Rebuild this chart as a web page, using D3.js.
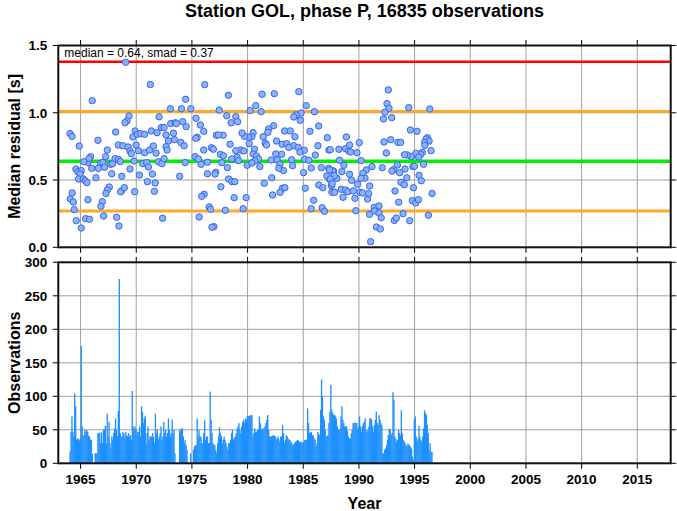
<!DOCTYPE html>
<html><head><meta charset="utf-8">
<script src="https://cdn.jsdelivr.net/npm/d3@7"></script>
<style>
body{margin:0;background:#fff}
svg{display:block}
text{font-family:"Liberation Sans",Arial,Helvetica,sans-serif;fill:#000}
</style>
</head><body>
<svg id="chart" width="677" height="511"></svg>
<script>
// ---------------- data ----------------
const titleText = "Station GOL, phase P, 16835 observations";
const medianValue = 0.64;
const smadValue = 0.37;
const statsText = "median = 0.64, smad = 0.37";
const yearDomain = [1963, 2018];
const yearTicks = [1965, 1970, 1975, 1980, 1985, 1990, 1995, 2000, 2005, 2010, 2015];
const residTicks = [0, 0.5, 1.0, 1.5];
const residTickLabels = ["0.0", "0.5", "1.0", "1.5"];
const obsTicks = [0, 50, 100, 150, 200, 250, 300];

// monthly median residuals: [decimal year, median residual (s)]
const residPoints = [
[1969.05,1.375],[1971.27,1.21],[1966.05,1.09],[1974.44,1.10],[1973.07,1.03],[1974.06,1.03],[1974.9,1.03],
[1969.35,0.976],[1969.17,0.94],[1968.99,0.926],[1972.05,0.97],
[1964.05,0.845],[1964.23,0.825],[1968.15,0.857],[1966.56,0.795],[1964.88,0.753],
[1969.9,0.865],[1969.7,0.82],[1970.1,0.84],[1970.4,0.845],[1970.75,0.84],[1971.36,0.865],
[1971.87,0.852],[1972.26,0.89],[1972.5,0.89],[1972.68,0.835],
[1973.1,0.92],[1973.5,0.926],[1973.6,0.92],[1974.17,0.934],[1974.48,0.897],
[1973.34,0.848],[1973.43,0.80],[1972.9,0.79],[1972.68,0.748],[1972.77,0.723],[1974.0,0.78],[1974.3,0.755],
[1968.39,0.76],[1968.8,0.755],[1969.26,0.746],[1969.44,0.716],[1969.56,0.696],[1969.98,0.76],[1970.2,0.718],[1970.75,0.703],[1971.2,0.723],[1971.54,0.753],[1971.78,0.70],
[1967.4,0.723],[1967.25,0.674],[1965.9,0.674],[1965.66,0.63],[1965.75,0.66],[1965.3,0.636],[1966.0,0.587],[1966.8,0.625],[1967.0,0.63],[1966.6,0.587],[1967.16,0.595],[1967.7,0.617],[1967.88,0.622],[1968.1,0.659],[1968.4,0.654],[1968.57,0.637],
[1969.8,0.641],[1970.58,0.622],[1970.94,0.63],[1971.09,0.597],[1972.0,0.636],[1972.3,0.622],[1972.5,0.659],[1974.39,0.63],
[1964.58,0.582],[1964.77,0.562],[1965.07,0.57],[1964.95,0.545],[1964.82,0.508],[1965.24,0.508],[1965.42,0.495],[1965.57,0.48],
[1966.38,0.517],[1967.8,0.547],[1968.7,0.528],[1969.44,0.582],[1970.28,0.537],[1971.45,0.545],[1971.0,0.488],[1971.7,0.478],[1973.9,0.528],
[1964.25,0.404],[1964.07,0.36],[1964.35,0.337],[1967.58,0.448],[1967.4,0.426],[1967.28,0.4],[1968.66,0.418],[1968.6,0.413],[1968.93,0.443],[1969.86,0.413],[1971.63,0.416],[1965.66,0.354],[1966.95,0.339],[1966.83,0.305],[1964.43,0.28],
[1964.61,0.198],[1965.45,0.213],[1965.8,0.208],[1967.07,0.233],[1968.24,0.223],[1968.45,0.158],[1965.06,0.143],[1972.37,0.216],
[1975.28,0.674],
[1976.15,1.209],[1978.28,1.13],[1981.3,1.138],[1982.4,1.142],[1984.6,1.157],[1977.45,1.02],
[1980.74,1.053],[1980.23,1.016],[1981.22,1.008],
[1985.27,1.053],[1986.0,1.008],[1984.8,0.998],[1984.37,0.984],[1984.15,0.969],[1984.73,0.944],
[1978.13,0.978],[1978.94,0.971],[1978.52,0.926],[1979.1,0.934],[1975.76,0.909],[1975.37,0.959],
[1982.33,0.904],[1981.88,0.88],[1981.82,0.855],[1981.4,0.822],[1980.5,0.852],[1980.38,0.822],[1980.1,0.818],[1979.72,0.825],[1979.5,0.85],[1977.8,0.833],[1977.2,0.833],[1977.38,0.835],
[1976.06,0.862],[1975.47,0.818],[1975.34,0.81],
[1983.32,0.865],[1983.83,0.865],[1984.25,0.822],[1986.38,0.902],[1985.6,0.862],[1987.16,0.815],[1986.32,0.755],[1987.3,0.723],
[1978.43,0.766],[1976.75,0.74],[1976.93,0.729],[1976.06,0.723],[1977.56,0.691],[1977.83,0.681],[1979.36,0.723],[1979.66,0.716],[1978.94,0.718],[1978.19,0.592],[1977.68,0.629],
[1981.58,0.775],[1981.7,0.76],[1982.6,0.79],[1983.1,0.766],[1983.52,0.77],[1984.13,0.755],[1983.7,0.743],[1984.55,0.743],[1985.1,0.721],[1984.7,0.708],[1983.05,0.691],[1982.53,0.694],
[1980.14,0.77],[1980.62,0.729],[1980.5,0.694],[1980.8,0.679],[1980.98,0.657],[1981.1,0.6],[1980.65,0.642],[1979.96,0.61],[1980.38,0.627],[1979.06,0.669],[1978.58,0.657],[1979.18,0.644],
[1982.12,0.649],[1982.66,0.649],[1982.9,0.617],[1983.23,0.57],[1982.8,0.587],[1983.95,0.651],[1984.04,0.607],[1985.12,0.656],[1985.5,0.647],[1986.08,0.686],[1986.62,0.592],[1985.72,0.59],[1985.03,0.555],[1987.28,0.587],[1987.72,0.567],[1987.36,0.506],[1987.12,0.53],
[1976.4,0.547],[1977.14,0.558],[1977.08,0.545],[1975.82,0.617],[1976.4,0.632],[1975.58,0.657],
[1978.3,0.508],[1978.6,0.488],[1978.85,0.488],[1977.6,0.45],[1982.17,0.517],[1981.5,0.476],[1983.14,0.439],[1983.35,0.443],[1982.24,0.389],[1982.93,0.409],[1985.18,0.439],[1986.4,0.463],[1986.76,0.443],[1987.52,0.458],[1987.57,0.409],[1985.93,0.349],
[1976.1,0.394],[1975.88,0.379],[1978.8,0.369],[1979.87,0.369],[1976.55,0.3],[1976.67,0.283],[1978.0,0.275],[1979.6,0.287],[1975.65,0.225],[1976.97,0.153],[1976.8,0.149],[1985.72,0.287],[1986.7,0.294],[1986.9,0.268],
[1992.64,1.17],[1992.52,1.068],[1992.7,1.033],[1992.34,1.004],[1992.94,0.964],[1992.2,0.954],[1994.47,1.038],[1996.36,1.028],[1994.62,0.872],[1995.22,0.862],
[1996.15,0.815],[1996.03,0.805],[1996.3,0.79],[1995.9,0.78],[1995.92,0.758],[1996.48,0.718],[1995.7,0.706],[1995.55,0.691],[1995.1,0.698],[1994.7,0.674],[1994.35,0.686],[1994.1,0.688],[1995.37,0.671],
[1988.87,0.82],[1988.8,0.733],[1989.1,0.716],[1989.16,0.76],[1990.03,0.778],[1989.25,0.708],[1989.82,0.703],[1988.2,0.729],[1987.43,0.726],
[1992.25,0.783],[1992.85,0.8],[1993.5,0.78],[1993.75,0.78],[1992.46,0.701],[1990.2,0.644],
[1988.26,0.647],[1988.65,0.61],[1987.66,0.567],[1987.37,0.575],[1988.47,0.562],[1988.02,0.513],[1987.79,0.532],[1987.43,0.508],[1987.6,0.473],[1989.16,0.543],[1989.34,0.498],[1990.66,0.575],[1991.17,0.6],[1990.36,0.55],[1990.54,0.515],[1989.88,0.468],[1990.2,0.513],[1992.1,0.592],[1993.1,0.577],[1992.97,0.567],[1993.45,0.612],[1993.66,0.555],[1994.14,0.582],[1994.3,0.517],[1993.77,0.483],[1994.08,0.465],[1994.85,0.6],[1994.98,0.602],[1995.4,0.535],[1995.6,0.495],[1995.8,0.617],
[1987.82,0.409],[1988.42,0.431],[1988.57,0.372],[1988.8,0.426],[1989.0,0.413],[1989.5,0.419],[1989.64,0.364],[1990.09,0.409],[1990.33,0.404],[1990.78,0.359],[1990.96,0.456],[1990.87,0.4],[1993.24,0.419],[1993.57,0.335],[1994.8,0.347],[1995.1,0.33],[1995.34,0.354],[1994.9,0.443],[1996.57,0.4],
[1989.72,0.272],[1990.95,0.245],[1991.37,0.297],[1991.8,0.307],[1991.4,0.27],[1991.8,0.255],[1992.0,0.22],[1993.96,0.25],[1994.56,0.198],[1993.18,0.2],[1993.36,0.218],[1996.24,0.238],[1991.57,0.151],[1991.92,0.136],[1991.05,0.042]
];

// monthly observation counts, starting January 1964 (one row per year)
const obsStartYear = 1964;
const obsMonthlyCounts = [
 18, 47, 70, 47, 40,104, 85, 35, 37, 36, 34, 38, // 1964
175, 55, 41, 42, 50, 47, 50, 47, 41, 40, 35, 35, // 1965
 14,  0,  0, 15, 15, 15, 45, 45, 46, 30, 46, 30, // 1966
 50, 50, 56, 30, 74, 40, 62, 30, 22, 40, 35, 45, // 1967
 52, 67, 50, 40, 78,275, 45, 40, 40, 47, 45, 38, // 1968
 47, 42, 40, 45, 40, 42, 35,108, 55, 50, 55, 50, // 1969
 42, 47, 47, 55, 40, 85, 77, 60, 67, 71, 30, 45, // 1970
 55, 35, 40, 40, 40, 45, 39, 30, 74, 45, 50, 35, // 1971
 40, 45, 55, 35, 40, 62, 45, 50, 40, 45, 67, 50, // 1972
 40, 45, 65, 45, 50, 15,  0,  0,  0,  0, 50, 48, // 1973
 52, 52, 40, 30, 35, 27, 20,  0,  0,  0, 15,  0, // 1974
  0, 20, 25, 27, 27, 67, 40, 50, 40, 40, 30, 30, // 1975
 45, 64, 35, 40, 40, 30, 30,107, 65, 45, 30, 28, // 1976
 27, 20, 15, 30, 40, 54, 45, 41, 30, 35, 40, 35, // 1977
 30, 25, 20, 30, 30, 35, 45, 50, 35, 38, 40, 45, // 1978
 52, 55, 60, 50, 45, 55, 62, 65, 60, 67, 65, 71, // 1979
 70, 71, 71, 72, 72, 40, 45, 52, 47, 47, 50, 50, // 1980
 70, 60, 50, 52, 52, 50, 55, 60, 65, 72, 50, 40, // 1981
 40, 40, 41, 41, 42, 40, 35, 38, 40, 36, 32, 40, // 1982
 40, 57, 45, 30, 35, 42, 40, 37, 35, 35, 32, 30, // 1983
 27, 28, 30, 32, 33, 35, 34, 32, 32, 32, 31, 30, // 1984
 33, 35, 35, 35, 82, 60, 45, 46, 47, 42, 42, 38, // 1985
 35, 25, 30, 47, 44, 42, 80,125,100, 70, 65, 50, // 1986
 40, 41, 42, 60, 77,117, 80, 75, 72, 72, 70, 67, // 1987
 55, 50, 50, 52, 70, 85, 65, 60, 55, 55, 55, 48, // 1988
 40, 37, 37, 45, 50, 60, 60, 61, 60, 60, 50, 55, // 1989
 70, 55, 47, 55, 60, 62, 67, 47, 50, 47, 55, 67, // 1990
 67, 65, 55, 47, 57, 65, 77, 60, 57, 72, 65, 60, // 1991
 57, 15, 15, 20, 22, 27, 35, 42, 52, 50, 42, 45, // 1992
106, 95, 40, 37, 32, 35, 50, 45, 42, 79, 45, 35, // 1993
 33, 30, 27, 25, 29, 28, 27, 24, 22, 10,  5, 65, // 1994
 70, 40, 32, 37, 56, 40, 35, 32, 40, 52, 79, 75, // 1995
 72, 57, 45, 20, 30, 17, 17                      // 1996
];

// ---------------- layout ----------------
const svg = d3.select("#chart");
const L = 58.3, R = 670.7;
const top1 = 45.5, bot1 = 247.3;
const top2 = 262.3, bot2 = 463.3;
const tickLen = 5.5;
const gridColor = "#a0a0a0";

const x = d3.scaleLinear().domain(yearDomain).range([L, R]);
const y1 = d3.scaleLinear().domain([0, 1.5]).range([bot1, top1]);
const y2 = d3.scaleLinear().domain([0, 300]).range([bot2, top2]);

// title
svg.append("text").attr("x", (L + R) / 2).attr("y", 17)
  .attr("text-anchor", "middle").attr("font-size", 18).attr("font-weight", "bold")
  .text(titleText);

function panel(yScale, yTicks, yLabels, top, bot, yTitle, showX) {
  const g = svg.append("g");
  // grid
  g.selectAll(".gx").data(yearTicks).enter().append("line")
    .attr("x1", d => x(d)).attr("x2", d => x(d)).attr("y1", top).attr("y2", bot)
    .attr("stroke", gridColor).attr("stroke-width", 1);
  g.selectAll(".gy").data(yTicks.slice(1, -1)).enter().append("line")
    .attr("y1", d => yScale(d)).attr("y2", d => yScale(d)).attr("x1", L).attr("x2", R)
    .attr("stroke", gridColor).attr("stroke-width", 1);
  const content = svg.append("g");
  const frame = svg.append("g");
  yTicks.forEach(t => {
    frame.append("line").attr("x1", L - tickLen).attr("x2", L).attr("y1", yScale(t)).attr("y2", yScale(t))
      .attr("stroke", "#000").attr("stroke-width", 1);
    frame.append("line").attr("x1", R).attr("x2", R + tickLen).attr("y1", yScale(t)).attr("y2", yScale(t))
      .attr("stroke", "#000").attr("stroke-width", 1);
  });
  yearTicks.forEach(t => {
    frame.append("line").attr("x1", x(t)).attr("x2", x(t)).attr("y1", top - tickLen).attr("y2", top)
      .attr("stroke", "#000").attr("stroke-width", 1);
    frame.append("line").attr("x1", x(t)).attr("x2", x(t)).attr("y1", bot).attr("y2", bot + tickLen)
      .attr("stroke", "#000").attr("stroke-width", 1);
  });
  frame.append("rect").attr("x", L).attr("y", top).attr("width", R - L).attr("height", bot - top)
    .attr("fill", "none").attr("stroke", "#111").attr("stroke-width", 2);
  frame.selectAll(".yl").data(yTicks).enter().append("text")
    .attr("x", L - 11).attr("y", d => yScale(d)).attr("dy", "0.36em")
    .attr("text-anchor", "end").attr("font-size", 13.5).attr("font-weight", "bold")
    .text((d, i) => yLabels[i]);
  frame.append("text")
    .attr("transform", `translate(20,${(top + bot) / 2}) rotate(-90)`)
    .attr("text-anchor", "middle").attr("font-size", 16).attr("font-weight", "bold")
    .text(yTitle);
  if (showX) {
    frame.selectAll(".xl").data(yearTicks).enter().append("text")
      .attr("x", d => x(d)).attr("y", 484)
      .attr("text-anchor", "middle").attr("font-size", 13.5).attr("font-weight", "bold")
      .text(d => d);
  }
  return content;
}

// ---- top panel ----
const c1 = panel(y1, residTicks, residTickLabels, top1, bot1, "Median residual [s]", false);
const refLines = [
  { v: medianValue + 2 * smadValue, color: "#ff0000", w: 2.5 },
  { v: medianValue + smadValue, color: "#ffa726", w: 3 },
  { v: medianValue - smadValue, color: "#ffa726", w: 3 },
  { v: medianValue, color: "#00f000", w: 3.5 }
];
c1.selectAll("line.ref").data(refLines).enter().append("line")
  .attr("x1", L).attr("x2", R).attr("y1", d => y1(d.v)).attr("y2", d => y1(d.v))
  .attr("stroke", d => d.color).attr("stroke-width", d => d.w);
c1.selectAll("circle").data(residPoints).enter().append("circle")
  .attr("cx", d => x(d[0])).attr("cy", d => y1(d[1])).attr("r", 3.2)
  .attr("fill", "#88b4fa").attr("stroke", "#3b63ee").attr("stroke-width", 1);
c1.append("text").attr("x", L + 6).attr("y", 57).attr("font-size", 12)
  .text(statsText);

// ---- bottom panel ----
const c2 = panel(y2, obsTicks, obsTicks.map(String), top2, bot2, "Observations", true);
c2.selectAll("rect").data(obsMonthlyCounts).enter().append("rect")
  .attr("x", (d, i) => x(obsStartYear + i / 12))
  .attr("width", (d, i) => x(obsStartYear + (i + 1) / 12) - x(obsStartYear + i / 12) + 0.4)
  .attr("y", d => y2(d)).attr("height", d => y2(0) - y2(d))
  .attr("fill", "#1e90ff");

// x title
svg.append("text").attr("x", (L + R) / 2).attr("y", 509)
  .attr("text-anchor", "middle").attr("font-size", 16).attr("font-weight", "bold")
  .text("Year");
</script>
</body></html>
